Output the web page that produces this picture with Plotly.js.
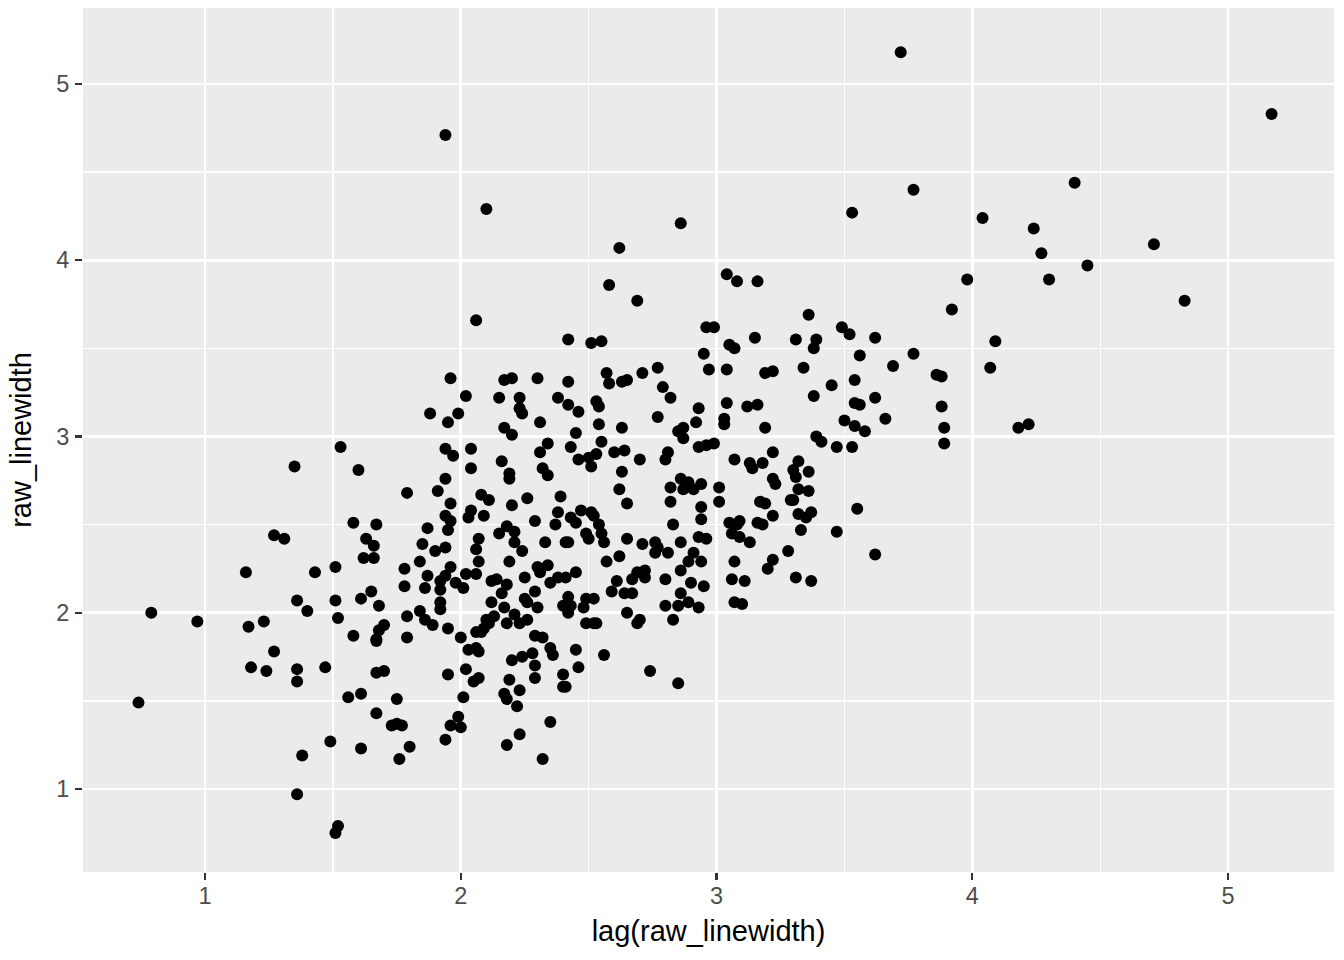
<!DOCTYPE html>
<html>
<head>
<meta charset="utf-8">
<script src="https://cdn.plot.ly/plotly-3.0.1.min.js"></script>
<style>html,body{margin:0;padding:0;background:#fff;}#chart{width:1344px;height:960px;}</style>
</head>
<body>
<div id="chart"></div>
<script>
// lag(raw_linewidth) values (x) and raw_linewidth values (y)
const lagRawLinewidth = [
 1.53,1.35,1.27,1.31,1.16,1.43,1.51,1.36,1.40,1.51,0.79,0.97,1.17,1.23,1.52,1.27,1.18,1.24,1.36,1.36,1.47,0.74,1.49,1.38,1.36,1.52,1.51,
 2.06,1.96,2.17,2.20,2.30,2.02,2.15,2.23,2.23,2.24,2.38,1.88,1.99,1.95,2.31,2.17,2.20,1.94,1.97,2.04,2.34,2.31,2.16,1.60,2.04,2.19,2.19,2.32,2.34,1.94,1.79,1.91,1.96,2.08,2.11,2.26,2.39,2.20,1.94,1.96,1.95,2.04,2.03,2.09,2.29,2.37,1.58,1.67,1.87,1.63,1.66,1.85,1.90,1.94,2.07,2.15,2.18,2.21,2.21,2.33,2.06,2.24,
 1.62,1.66,1.84,2.07,2.19,
 1.78,1.96,2.30,2.31,2.34,1.87,1.94,1.92,2.02,2.06,1.78,1.86,1.98,2.01,1.92,2.12,2.14,2.18,2.25,2.35,2.38,1.61,1.65,1.68,1.92,1.92,2.16,2.29,2.12,2.25,2.26,2.30,2.17,
 1.79,1.84,1.86,1.89,1.95,2.10,2.13,2.11,2.09,2.06,2.08,2.18,2.21,2.23,2.26,2.29,2.32,1.58,1.70,1.68,1.67,1.67,1.79,2.00,2.03,2.06,2.07,2.20,2.24,2.28,2.29,2.35,2.36,
 1.67,1.70,1.95,2.02,2.05,2.07,2.19,2.29,1.56,1.61,1.75,2.01,2.17,2.18,2.23,2.22,1.67,1.73,1.75,1.77,1.99,1.96,2.00,2.35,2.23,1.94,2.18,1.61,1.80,1.76,2.32,
 2.58,2.69,3.04,3.08,3.16,2.96,2.99,2.42,2.51,2.55,3.15,3.05,3.07,2.95,2.77,2.97,3.04,3.19,3.22,2.57,2.58,2.71,2.63,2.65,2.42,2.79,2.82,
 2.42,2.46,2.53,2.54,2.93,3.04,3.12,3.16,2.77,2.54,2.63,2.92,3.03,3.03,3.19,2.45,2.85,2.87,2.87,2.43,2.55,2.93,2.96,2.99,
 2.46,2.50,2.53,2.51,2.60,2.64,2.70,2.81,2.80,3.07,3.13,3.14,3.18,3.22,2.63,2.62,2.82,2.86,2.89,2.87,2.91,2.94,3.01,3.22,3.23,
 2.65,2.82,2.94,2.94,3.01,3.17,3.19,3.22,2.38,2.43,2.45,2.47,2.51,2.52,2.54,2.55,2.56,2.49,2.50,2.41,2.42,2.83,3.05,3.06,3.09,3.08,3.16,3.18,
 2.65,2.71,2.76,2.77,2.76,2.86,2.93,2.96,3.09,3.13,2.57,2.62,2.81,2.91,2.89,2.94,3.07,3.22,3.20,
 2.41,2.45,2.61,2.59,2.67,2.69,2.72,2.72,2.80,2.86,2.90,2.95,3.06,3.11,2.42,2.40,2.43,2.42,2.49,2.52,2.48,2.64,2.67,2.65,2.86,2.80,2.85,2.89,2.93,3.07,3.10,
 2.49,2.52,2.53,2.70,2.69,2.83,2.45,2.56,2.46,2.40,2.41,2.40,2.74,2.85,
 3.98,3.92,3.36,3.49,3.52,3.62,3.31,3.39,3.38,4.09,3.56,3.69,3.77,3.34,3.86,3.88,4.07,3.45,3.54,3.38,3.54,3.56,3.62,3.88,3.50,3.54,3.58,3.66,3.89,3.89,
 3.39,3.41,3.47,3.53,3.32,3.30,3.31,3.36,3.32,3.36,3.29,3.30,3.32,3.35,3.37,3.55,3.33,3.47,3.28,3.62,3.31,3.37,
 5.17,4.40,4.04,4.24,4.71,4.27,4.45,4.30,4.83,4.18,4.22,
 3.72,1.94,2.10,2.62,2.86,3.53,3.77
];
const rawLinewidth = [
 2.94,2.83,2.44,2.42,2.23,2.23,2.26,2.07,2.01,2.07,2.00,1.95,1.92,1.95,1.97,1.78,1.69,1.67,1.68,1.61,1.69,1.49,1.27,1.19,0.97,0.79,0.75,
 3.66,3.33,3.32,3.33,3.33,3.23,3.22,3.22,3.16,3.13,3.22,3.13,3.13,3.08,3.08,3.05,3.01,2.93,2.89,2.93,2.96,2.91,2.86,2.81,2.82,2.79,2.76,2.82,2.78,2.76,2.68,2.69,2.62,2.67,2.64,2.65,2.66,2.61,2.55,2.52,2.47,2.58,2.54,2.55,2.52,2.50,2.51,2.50,2.48,2.42,2.38,2.39,2.35,2.37,2.42,2.45,2.49,2.46,2.40,2.40,2.36,2.35,
 2.31,2.31,2.29,2.29,2.29,
 2.25,2.26,2.26,2.23,2.27,2.21,2.21,2.18,2.22,2.22,2.15,2.14,2.17,2.14,2.13,2.18,2.19,2.16,2.20,2.17,2.20,2.08,2.12,2.04,2.06,2.02,2.11,2.12,2.06,2.08,2.06,2.03,2.03,
 1.98,2.01,1.96,1.93,1.91,1.96,1.98,1.94,1.91,1.89,1.89,1.94,1.99,1.94,1.96,1.87,1.86,1.87,1.93,1.90,1.85,1.84,1.86,1.86,1.79,1.80,1.78,1.73,1.75,1.77,1.70,1.80,1.76,
 1.66,1.67,1.65,1.68,1.61,1.63,1.62,1.63,1.52,1.54,1.51,1.52,1.54,1.51,1.56,1.47,1.43,1.36,1.37,1.36,1.41,1.36,1.35,1.38,1.31,1.28,1.25,1.23,1.24,1.17,1.17,
 3.86,3.77,3.92,3.88,3.88,3.62,3.62,3.55,3.53,3.54,3.56,3.52,3.50,3.47,3.39,3.38,3.38,3.36,3.37,3.36,3.30,3.36,3.31,3.32,3.31,3.28,3.22,
 3.18,3.14,3.20,3.17,3.16,3.19,3.17,3.18,3.11,3.07,3.05,3.08,3.10,3.07,3.05,3.02,3.03,3.05,2.99,2.94,2.97,2.94,2.95,2.96,
 2.87,2.88,2.90,2.83,2.91,2.92,2.87,2.91,2.87,2.87,2.85,2.82,2.85,2.91,2.80,2.70,2.71,2.76,2.74,2.70,2.70,2.73,2.71,2.76,2.73,
 2.62,2.63,2.60,2.53,2.63,2.63,2.62,2.55,2.57,2.54,2.51,2.58,2.57,2.55,2.50,2.45,2.40,2.45,2.42,2.40,2.40,2.50,2.51,2.45,2.52,2.50,2.51,2.50,
 2.42,2.39,2.40,2.37,2.34,2.40,2.43,2.42,2.43,2.40,2.29,2.32,2.34,2.34,2.29,2.29,2.29,2.30,2.25,
 2.20,2.23,2.18,2.12,2.19,2.23,2.24,2.20,2.19,2.24,2.17,2.15,2.19,2.18,2.09,2.04,2.04,2.00,2.08,2.08,2.03,2.11,2.11,2.00,2.11,2.04,2.04,2.06,2.03,2.06,2.05,
 1.94,1.94,1.94,1.96,1.94,1.96,1.79,1.76,1.69,1.65,1.58,1.58,1.67,1.60,
 3.89,3.72,3.69,3.62,3.58,3.56,3.55,3.55,3.50,3.54,3.46,3.40,3.47,3.39,3.35,3.34,3.39,3.29,3.32,3.23,3.19,3.18,3.22,3.17,3.09,3.06,3.03,3.10,3.05,2.96,
 3.00,2.97,2.94,2.94,2.86,2.81,2.77,2.80,2.70,2.69,2.64,2.64,2.56,2.54,2.57,2.59,2.47,2.46,2.35,2.33,2.20,2.18,
 4.83,4.44,4.24,4.18,4.09,4.04,3.97,3.89,3.77,3.05,3.07,
 5.18,4.71,4.29,4.07,4.21,4.27,4.40
];

const xTitle = 'lag(raw_linewidth)';
const yTitle = 'raw_linewidth';

const trace = {
  type: 'scatter',
  mode: 'markers',
  x: lagRawLinewidth,
  y: rawLinewidth,
  marker: {color: 'black', size: 12, line: {width: 0}},
  hoverinfo: 'skip'
};

const axisCommon = {
  showgrid: true, gridcolor: '#FFFFFF', gridwidth: 2.7,
  zeroline: false, showline: false,
  ticks: 'outside', ticklen: 7, tickwidth: 2.2, tickcolor: '#333333',
  tickfont: {size: 23.5, color: '#4D4D4D'},
  tick0: 0, dtick: 1,
  minor: {tick0: 0.5, dtick: 1, showgrid: true, gridcolor: '#FFFFFF', gridwidth: 1.4, ticks: ''},
  automargin: false
};

const layout = {
  width: 1344, height: 960,
  paper_bgcolor: '#FFFFFF', plot_bgcolor: '#EBEBEB',
  font: {family: '"Liberation Sans", Arial, Helvetica, sans-serif', color: '#000000'},
  margin: {l: 83, r: 10, t: 8, b: 88},
  showlegend: false,
  hovermode: false,
  xaxis: Object.assign({}, axisCommon, {
    range: [0.523, 5.414],
    ticklabelstandoff: -4,
    title: {text: xTitle, font: {size: 29, color: '#000000'}, standoff: 12}
  }),
  yaxis: Object.assign({}, axisCommon, {
    range: [0.529, 5.431],
    ticklabelstandoff: 1,
    title: {text: yTitle, font: {size: 29, color: '#000000'}, standoff: 16}
  })
};

Plotly.newPlot('chart', [trace], layout, {displayModeBar: false, staticPlot: true});
</script>
</body>
</html>
